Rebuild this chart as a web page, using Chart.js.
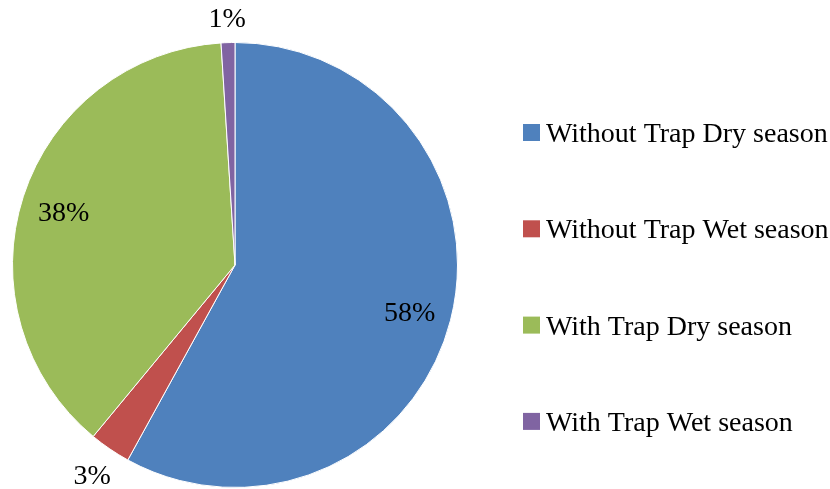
<!DOCTYPE html>
<html>
<head>
<meta charset="utf-8">
<script src="https://cdn.jsdelivr.net/npm/chart.js@4.4.1/dist/chart.umd.min.js"></script>
<style>
  html, body { margin: 0; padding: 0; background: #ffffff; }
  #wrap { position: relative; width: 830px; height: 489px; }
</style>
</head>
<body>
<div id="wrap"><canvas id="pie"></canvas></div>
<script>
// Share of catches by trap use and season (percent)
const categories = [
  'Without Trap Dry season',
  'Without Trap Wet season',
  'With Trap Dry season',
  'With Trap Wet season'
];
const shares = [58, 3, 38, 1];
const sliceColors = ['#4F81BD', '#C0504D', '#9BBB59', '#8064A2'];

const FONT = '28px "Liberation Serif", "Times New Roman", serif';

// Percent labels: large slices inside the pie, thin slices just outside the rim
const sliceLabels = {
  id: 'sliceLabels',
  afterDatasetsDraw(chart) {
    const ctx = chart.ctx;
    const meta = chart.getDatasetMeta(0);
    const total = shares.reduce((a, b) => a + b, 0);
    ctx.save();
    ctx.font = FONT;
    ctx.fillStyle = '#000';
    ctx.textAlign = 'center';
    ctx.textBaseline = 'middle';
    meta.data.forEach((arc, i) => {
      const p = arc.getProps(['x', 'y', 'startAngle', 'endAngle', 'outerRadius'], true);
      const mid = (p.startAngle + p.endAngle) / 2;
      const pct = Math.round(shares[i] / total * 100);
      const text = pct + '%';
      const dx = Math.cos(mid), dy = Math.sin(mid);
      let r;
      if (pct < 5) {
        // keep the text box a fixed gap away from the rim
        const halfW = ctx.measureText(text).width / 2, halfH = 10;
        r = p.outerRadius + 13 + Math.abs(dx) * halfW + Math.abs(dy) * halfH;
      } else {
        r = p.outerRadius * 0.81;
      }
      ctx.fillText(text, p.x + dx * r, p.y + dy * r + (pct < 5 ? 1 : 4));
    });
    ctx.restore();
  }
};

// Legend column to the right of the pie
const sideLegend = {
  id: 'sideLegend',
  afterDraw(chart) {
    const ctx = chart.ctx;
    const left = 523, box = 17, gap = 6, firstTop = 124, step = 96.3;
    ctx.save();
    ctx.font = FONT;
    ctx.textAlign = 'left';
    ctx.textBaseline = 'alphabetic';
    categories.forEach((name, i) => {
      const top = firstTop + i * step;
      ctx.fillStyle = sliceColors[i];
      ctx.fillRect(left, top, box, box);
      ctx.fillStyle = '#000';
      ctx.fillText(name, left + box + gap, top + 18);
    });
    ctx.restore();
  }
};

new Chart(document.getElementById('pie'), {
  type: 'pie',
  data: {
    labels: categories,
    datasets: [{
      data: shares,
      backgroundColor: sliceColors,
      borderColor: '#ffffff',
      borderWidth: 1
    }]
  },
  options: {
    responsive: true,
    maintainAspectRatio: false,
    animation: false,
    layout: { padding: { top: 42, bottom: 1, left: 0, right: 360 } },
    plugins: {
      legend: { display: false },
      tooltip: { enabled: false }
    }
  },
  plugins: [sliceLabels, sideLegend]
});
</script>
</body>
</html>
